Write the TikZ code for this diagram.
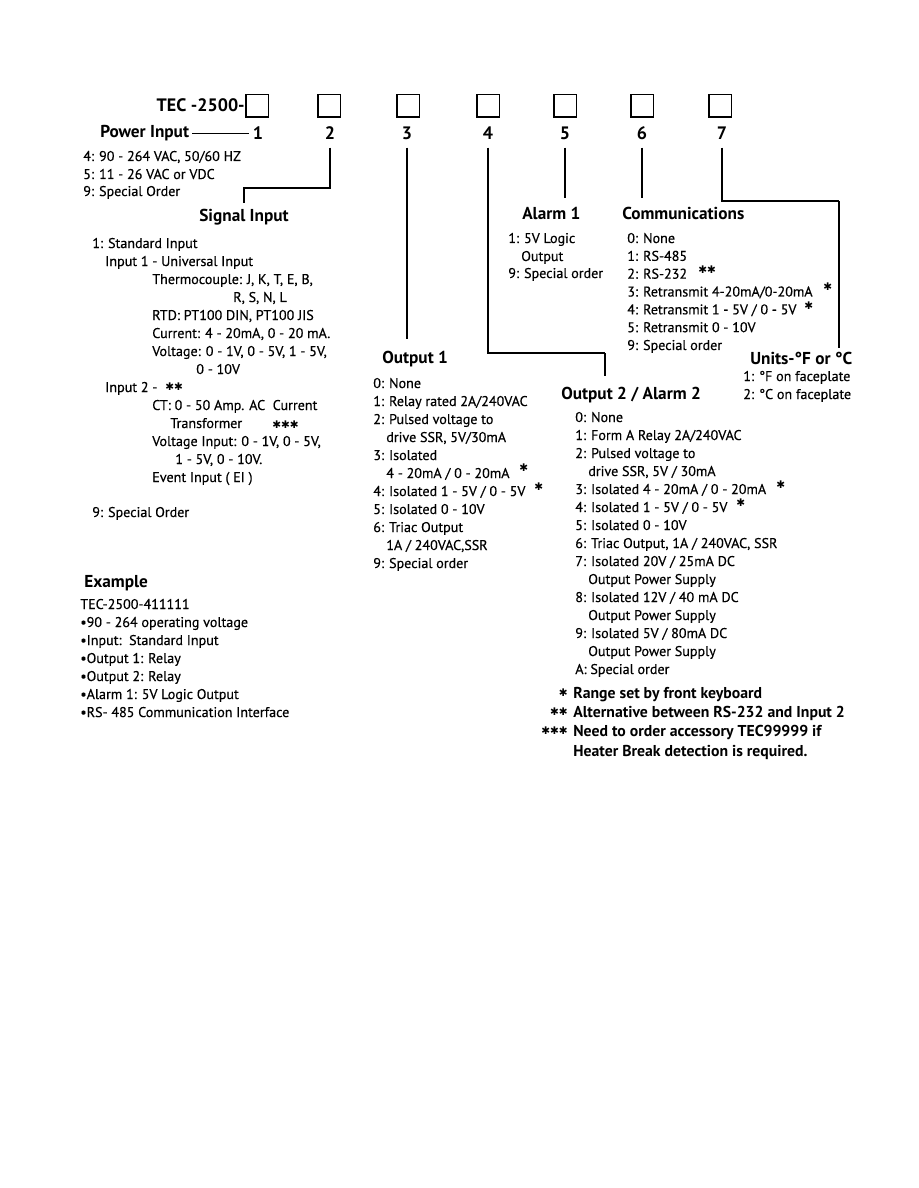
\documentclass[tikz,border=0pt]{standalone}
\usepackage{fontspec}
\setmainfont{PT Sans}
\newfontfamily\symf{DejaVu Sans}
\newfontfamily\bodyf{PT Sans}[FakeBold=0.35]
\begin{document}
\begin{tikzpicture}[x=0.6667pt,y=-0.6667pt,
  txt/.style={anchor=base west, inner sep=0pt, font=\bodyf\fontsize{9.4}{12}\selectfont},
  hd/.style={anchor=base, inner sep=0pt, font=\bfseries\fontsize{11.5}{13}\selectfont, text height=8pt, text depth=2.5pt},
  num/.style={font=\bfseries\fontsize{12}{14}\selectfont, inner sep=0pt, minimum height=19pt, minimum width=12pt},
  cell/.style={draw, line width=0.7pt, minimum width=14.7pt, minimum height=14.7pt, inner sep=0pt},
  ln/.style={line width=0.7pt},
  ast/.style={anchor=west, inner sep=0pt, font=\symf\bfseries\fontsize{7}{8}\selectfont},
  fn/.style={anchor=base west, inner sep=0pt, font=\bfseries\fontsize{10.5}{12}\selectfont}]
\useasboundingbox[fill=white] (0,0) rectangle (918,1188);

% title and code cells
\node[anchor=base east, inner sep=0pt, font=\bfseries\fontsize{12}{14}\selectfont] (title) at (245,112) {TEC -2500-};
\foreach \x [count=\i] in {257,329,408,488,565,642,720}
  \node[cell] (b\i) at (\x,106) {};
\foreach \x [count=\i] in {258,330,407,488,565,642,722}
  \node[num] (n\i) at (\x,133) {\i};

% headings
\node[hd, anchor=base west] (pwr) at (100,138) {Power Input};
\node[hd] (sig) at (244,222) {Signal Input};
\node[hd, anchor=base west] (a1) at (522,220) {Alarm 1};
\node[hd, anchor=base west] (cm) at (622,220) {Communications};
\node[hd, anchor=base west] (o1) at (382,363) {Output 1};
\node[hd, anchor=base west] (o2) at (561,399) {Output 2 / Alarm 2};
\node[hd, anchor=base west] (un) at (750,364) {Units-°F or °C};
\node[hd, anchor=base west] (ex) at (84,587) {Example};

% connectors
\coordinate (k2) at (330,188);
\coordinate (k4) at (605,353);
\coordinate (k7) at (839,201);
\draw[ln] ([xshift=2pt]pwr.east) -- (pwr.east -| n1.west);
\draw[ln, shorten >=4.3pt] (n2.south) |- (k2) -| (sig.north);
\draw[ln, shorten >=7.7pt] (n3.south) -- (n3.south |- o1.north);
\draw[ln] (n4.south) |- (k4);
\draw[ln, shorten >=7pt] (k4) -- (k4 |- o2.north);
\draw[ln, shorten >=6.3pt] (n5.south) -- (n5.south |- a1.north);
\draw[ln, shorten >=6.3pt] (n6.south) -- (n6.south |- cm.north);
\draw[ln] (n7.south) |- (k7);
\draw[ln, shorten >=2.3pt] (k7) -- (k7 |- un.north);

% power input list
\node[txt] (p1) at (83,161) {4: 90 - 264 VAC, 50/60 HZ};
\node[txt] (p2) at (83,179) {5: 11 - 26 VAC or VDC};
\node[txt] (p3) at (83,196) {9: Special Order};

% signal input list
\node[txt] (s1) at (92,248) {1: Standard Input};
\node[txt] (s2) at (105,266) {Input 1 - Universal Input};
\node[txt] (s3) at (152,284) {Thermocouple: J, K, T, E, B,};
\node[txt] (s4) at (233,302) {R, S, N, L};
\node[txt] (s5) at (152,320) {RTD: PT100 DIN, PT100 JIS};
\node[txt] (s6) at (152,338) {Current: 4 - 20mA, 0 - 20 mA.};
\node[txt] (s7) at (152,356) {Voltage: 0 - 1V, 0 - 5V, 1 - 5V,};
\node[txt] (s8) at (196,374) {0 - 10V};
\node[txt] (s9) at (105,392) {Input 2 -};
\node[ast] (s9a) at (165,387) {✱✱};
\node[txt] (s10) at (152,410) {CT: 0 - 50 Amp. AC\ \ Current};
\node[txt] (s11) at (170,428) {Transformer};
\node[ast] (s11a) at (272,425) {✱✱✱};
\node[txt] (s12) at (152,446) {Voltage Input: 0 - 1V, 0 - 5V,};
\node[txt] (s13) at (175,464) {1 - 5V, 0 - 10V.};
\node[txt] (s14) at (152,482) {Event Input ( EI )};
\node[txt] (s15) at (92,517) {9: Special Order};

% output 1 list
\foreach \x/\t [count=\i from 0] in {373/{0: None},373/{1: Relay rated 2A/240VAC},373/{2: Pulsed voltage to},386/{drive SSR, 5V/30mA},373/{3: Isolated},386/{4 - 20mA / 0 - 20mA},373/{4: Isolated 1 - 5V / 0 - 5V},373/{5: Isolated 0 - 10V},373/{6: Triac Output},386/{1A / 240VAC,SSR},373/{9: Special order}}
  \node[txt] (oa\i) at (\x,{388+18*\i}) {\t};
\node[ast] (oa5a) at (519,468) {✱};
\node[ast] (oa6a) at (534,487) {✱};

% output 2 list
\foreach \x/\t [count=\i from 0] in {575/{0: None},575/{1: Form A Relay 2A/240VAC},575/{2: Pulsed voltage to},588/{drive SSR, 5V / 30mA},575/{3: Isolated 4 - 20mA / 0 - 20mA},575/{4: Isolated 1 - 5V / 0 - 5V},575/{5: Isolated 0 - 10V},575/{6: Triac Output, 1A / 240VAC, SSR},575/{7: Isolated 20V / 25mA DC},588/{Output Power Supply},575/{8: Isolated 12V / 40 mA DC},588/{Output Power Supply},575/{9: Isolated 5V / 80mA DC},588/{Output Power Supply},575/{A: Special order}}
  \node[txt] (ob\i) at (\x,{422+18*\i}) {\t};
\node[ast] (ob4a) at (776,485) {✱};
\node[ast] (ob5a) at (736,503) {✱};

% alarm 1 list
\node[txt] (al1) at (508,243) {1: 5V Logic};
\node[txt] (al2) at (521,261) {Output};
\node[txt] (al3) at (508,278) {9: Special order};

% communications list
\foreach \t [count=\i from 0] in {{0: None},{1: RS-485},{2: RS-232},{3: Retransmit 4-20mA/0-20mA},{4: Retransmit 1 - 5V / 0 - 5V},{5: Retransmit 0 - 10V},{9: Special order}}
  \node[txt] (cm\i) at (627,{243+17.83*\i}) {\t};
\node[ast] (cm2a) at (698,270) {✱✱};
\node[ast] (cm3a) at (823,287) {✱};
\node[ast] (cm4a) at (804,306) {✱};

% units list
\node[txt] (u1) at (743,381) {1: °F on faceplate};
\node[txt] (u2) at (743,399) {2: °C on faceplate};

% example
\foreach \t [count=\i from 0] in {{TEC-2500-411111},{•90 - 264 operating voltage},{•Input:\ \ Standard Input},{•Output 1: Relay},{•Output 2: Relay},{•Alarm 1: 5V Logic Output},{•RS- 485 Communication Interface}}
  \node[txt] (e\i) at (80,{609+18*\i}) {\t};

% footnotes
\node[fn] (f1) at (573,698) {Range set by front keyboard};
\node[fn] (f2) at (573,717) {Alternative between RS-232 and Input 2};
\node[fn] (f3) at (573,736) {Need to order accessory TEC99999 if};
\node[fn] (f4) at (573,756) {Heater Break detection is required.};
\node[ast, anchor=east] (f1a) at (568,693) {✱};
\node[ast, anchor=east] (f2a) at (568,712) {✱✱};
\node[ast, anchor=east] (f3a) at (568,731) {✱✱✱};
\end{tikzpicture}
\end{document}
